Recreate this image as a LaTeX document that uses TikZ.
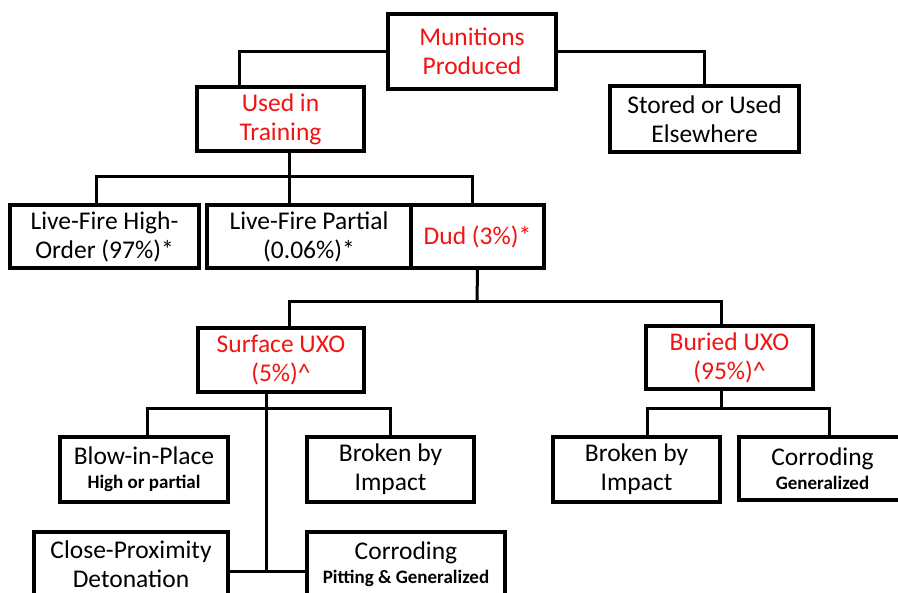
\documentclass[tikz,border=0pt]{standalone}
\usepackage{fontspec}
\setmainfont{Carlito}
\usetikzlibrary{calc,backgrounds}
\definecolor{tred}{RGB}{240,20,20}
\tikzset{
  box/.style={draw=black, line width=4pt, fill=white, rectangle, align=center, inner sep=0pt,
    font=\fontsize{25.5}{29}\selectfont, text=black},
  redbox/.style={box, text=tred},
  conn/.style={draw=black, line width=3pt},
}
\newcommand{\smalltxt}[1]{{\fontsize{19}{22}\selectfont\bfseries #1}}
\begin{document}
\begin{tikzpicture}[x=1pt,y=-1pt]
\useasboundingbox (0,0) rectangle (898,593);
\clip (0,0) rectangle (898,593);
% junctions
\coordinate (j1) at (289,177);
\coordinate (j2) at (477,302);
\coordinate (j3) at (266,409);
\coordinate (j4) at (266,572);
\coordinate (j5) at (721,409);
% boxes
\node[redbox, minimum width=168pt, minimum height=75pt] (mun) at (472,51.5) {Munitions\\Produced};
\node[redbox, minimum width=167pt, minimum height=64pt] (used) at (280.5,119) {Used in\\Training};
\node[box, minimum width=189pt, minimum height=66pt] (stored) at (704.5,119) {Stored or Used\\Elsewhere};
\node[box, minimum width=189pt, minimum height=63pt] (lfh) at (104.5,236.5) {Live-Fire High-\\Order (97\%)*};
\node[box, minimum width=204pt, minimum height=63pt] (lfp) at (309,236.5) {Live-Fire Partial\\(0.06\%)*};
\node[redbox, minimum width=133pt, minimum height=63pt] (dud) at (477.5,236.5) {Dud (3\%)*};
\node[redbox, minimum width=166pt, minimum height=64pt] (surf) at (281,360) {Surface UXO\\(5\%)\^{}};
\node[redbox, minimum width=167pt, minimum height=63pt] (bur) at (729.5,357.5) {Buried UXO\\(95\%)\^{}};
\node[box, minimum width=168pt, minimum height=65pt] (blow) at (144,469.5) {Blow-in-Place\\[-5pt]\smalltxt{High or partial}};
\node[box, minimum width=167pt, minimum height=65pt] (brk1) at (390.5,469.5) {Broken by\\Impact};
\node[box, minimum width=194pt, minimum height=64pt] (cpd) at (131,564) {Close-Proximity\\Detonation};
\node[box, minimum width=198pt, minimum height=64pt] (cor1) at (406,564) {Corroding\\[-5pt]\smalltxt{Pitting \& Generalized}};
\node[box, minimum width=167pt, minimum height=65pt] (brk2) at (636.5,469.5) {Broken by\\Impact};
\node[box, minimum width=167pt, minimum height=63pt] (cor2) at (822.5,469) {Corroding\\[-5pt]\smalltxt{Generalized}};
% connectors
\begin{scope}[on background layer]
\draw[conn] (mun.west) -| ([xshift=-41.5pt]used.north);
\draw[conn] (mun.east) -| (stored.north);
\draw[conn] ([xshift=8.5pt]used.south) -- (j1) -- ([xshift=-20pt]lfp.north);
\draw[conn] ([xshift=-8.5pt]lfh.north) |- (j1) -| ([xshift=-5.5pt]dud.north);
\draw[conn] (dud.south) -- (j2);
\draw[conn] ([xshift=8pt]surf.north) |- (j2) -| ([xshift=-8.5pt]bur.north);
\draw[conn] ([xshift=-15pt]surf.south) -- (j3) -- (j4);
\draw[conn] ([xshift=3pt]blow.north) |- (j3) -| (brk1.north);
\draw[conn] (cpd.east |- j4) -- (cor1.west |- j4);
\draw[conn] ([xshift=-8.5pt]bur.south) -- (j5);
\draw[conn] ([xshift=10.5pt]brk2.north) |- (j5) -| ([xshift=6.5pt]cor2.north);
\end{scope}
\end{tikzpicture}
\end{document}
